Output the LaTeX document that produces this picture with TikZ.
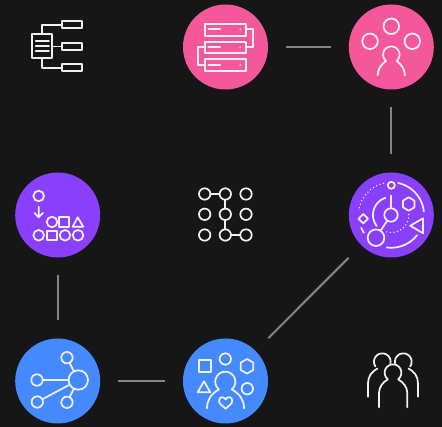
\documentclass[tikz,border=0pt]{standalone}
\usetikzlibrary{arrows.meta}
\definecolor{bgc}{HTML}{161616}
\definecolor{pinkc}{HTML}{F4589B}
\definecolor{purplec}{HTML}{8A3FFC}
\definecolor{bluec}{HTML}{4589FF}
\definecolor{linkc}{HTML}{858585}
\definecolor{iconc}{HTML}{F0F0F0}
\newcommand\circarc[6][]{\draw[icon,#1] plot[domain=#4:#5,samples=50] ({#2+#6*cos(\x)},{#3-#6*sin(\x)});}
\tikzset{
  disc/.style={circle,minimum size=85pt,inner sep=0pt,outer sep=0pt,fill=#1},
  link/.style={draw=linkc,line width=2pt,shorten >=18pt,shorten <=18pt},
  icon/.style={draw=iconc,line width=1.75pt,line join=round,line cap=round},
  ring/.style={circle,draw=iconc,line width=1.75pt,inner sep=0pt,outer sep=0pt,minimum size=#1},
  ring/.default=11pt,
  dots/.style={line width=1.5pt,dash pattern=on 0pt off 3.6pt,line cap=round}
}
\begin{document}
\begin{tikzpicture}[x=1pt,y=-1pt]
\fill[bgc] (0,0) rectangle (442,427);
\useasboundingbox (0,0) rectangle (442,427);

% discs
\node[disc=pinkc] (pinkA) at (225.5,47) {};
\node[disc=pinkc] (pinkB) at (391.3,47) {};
\node[disc=purplec] (purpleA) at (57.7,215) {};
\node[disc=purplec] (purpleB) at (391.3,215) {};
\node[disc=bluec] (blueA) at (57.7,381) {};
\node[disc=bluec] (blueB) at (225.5,381) {};

% connectors
\draw[link] (pinkA) -- (pinkB);
\draw[link] (pinkB) -- (purpleB);
\draw[link] (purpleA) -- (blueA);
\draw[link] (blueA) -- (blueB);
\draw[link] (blueB) -- (purpleB);

% document tree icon
\draw[icon] (32,34.3) rectangle (52.3,58.3);
\draw[icon] (35.7,41) -- (49,41) (35.7,46) -- (49,46) (35.7,51) -- (49,51);
\draw[icon] (62.3,21.3) rectangle (82.3,28);
\draw[icon] (62.3,43) rectangle (82.3,49.7);
\draw[icon] (62.3,64.3) rectangle (82.3,71.3);
\draw[icon] (42,34.3) -- (42,24.7) -- (62.3,24.7);
\draw[icon] (52.3,46.4) -- (62.3,46.4);
\draw[icon] (42,58.3) -- (42,67.7) -- (62.3,67.7);

% servers icon
\draw[icon] (205.3,23.7) rectangle (245.7,35.7);
\draw[icon] (205.3,41.7) rectangle (245.7,53);
\draw[icon] (205.3,59.3) rectangle (245.7,71);
\draw[icon] (208.3,29.3) -- (220.3,29.3) (208.3,47.3) -- (220.3,47.3) (208.3,65) -- (220.3,65);
\fill[iconc] (240.3,29.3) circle (.9) (240.3,47.3) circle (.9) (240.3,65) circle (.9);
\draw[icon] (245.7,29.3) -- (253.3,29.3) -- (253.3,47.3) -- (245.7,47.3);
\draw[icon] (205.3,47.3) -- (197.7,47.3) -- (197.7,65) -- (205.3,65);

% person with three circles icon
\node[ring=15.5pt] (pbTop) at (391.3,26.3) {};
\node[ring=15.5pt] (pbLeft) at (370,41.3) {};
\node[ring=15.5pt] (pbRight) at (412.3,41.3) {};
\circarc{391.3}{54.7}{-50}{230}{8.2}
\draw[icon] (377.7,75.3) .. controls (377.7,69.5) and (381,64.5) .. (386,61);
\draw[icon] (404.9,75.3) .. controls (404.9,69.5) and (401.6,64.5) .. (396.6,61);

% shapes sorting icon
\node[ring=10.6pt] (sa) at (38.7,196) {};
\draw[icon] (38.7,206.7) -- (38.7,217.3) (34.5,213) -- (38.7,217.3) -- (42.9,213);
\node[ring=10.6pt] (sb) at (52,222) {};
\draw[icon] (59.3,217.3) rectangle (69,226.7);
\draw[icon] (77.7,217.3) -- (83.3,226.7) -- (72.7,226.7) -- cycle;
\node[ring=10.6pt] (sc) at (38.7,235.3) {};
\draw[icon] (47,230.7) rectangle (56.7,240.3);
\node[ring=10.6pt] (sd) at (65,235.3) {};
\node[ring=10.6pt] (se) at (78,235.3) {};

% centre grid icon
\node[ring=11.4pt] (g11) at (204.7,194) {};
\node[ring=11.4pt] (g12) at (225.3,194) {};
\node[ring=11.4pt] (g13) at (246,194) {};
\node[ring=11.4pt] (g21) at (204.7,214.3) {};
\node[ring=11.4pt] (g22) at (225.3,214.3) {};
\node[ring=11.4pt] (g23) at (246,214.3) {};
\node[ring=11.4pt] (g31) at (204.7,235) {};
\node[ring=11.4pt] (g32) at (225.3,235) {};
\node[ring=11.4pt] (g33) at (246,235) {};
\draw[icon] (g11) -- (g12);
\draw[icon] (g12) -- (g22);
\draw[icon] (g22) -- (g32);
\draw[icon] (g32) -- (g33);

% orbit icon
\node[ring=7pt] (oTop) at (391.3,185.3) {};
\node[ring=13.4pt] (oMid) at (391,215) {};
\node[ring=16.6pt] (oBig) at (376,237.7) {};
\draw[icon] (oMid) -- (oBig);
\draw[icon] (391,195.7) -- (oMid);
\circarc{391.3}{215}{6}{78}{32.7}
\circarc{391.3}{215}{-98}{-38}{32.7}
\circarc{391.3}{215}{203}{213}{32.7}
\circarc[dots]{391.3}{215}{104}{168}{32.7}
\circarc{391}{215}{108}{218}{18}
\circarc[dots]{391.3}{215}{-105}{2}{17.5}
\draw[icon] (408.7,197.3) -- (414.5,200.7) -- (414.5,207.3) -- (408.7,210.7) -- (402.9,207.3) -- (402.9,200.7) -- cycle;
\draw[icon] (410.3,225.7) -- (423,218.3) -- (423,233.3) -- cycle;
\draw[icon] (363.3,214) -- (368,218.7) -- (363.3,223.4) -- (358.6,218.7) -- cycle;

% network icon
\node[ring=19.4pt] (nHub) at (78.3,380) {};
\node[ring=11.4pt] (nA) at (67,357.7) {};
\node[ring=11.4pt] (nB) at (37,380) {};
\node[ring=11.4pt] (nC) at (37.3,402) {};
\node[ring=11.4pt] (nD) at (67,402.3) {};
\draw[icon] (nHub) -- (nA);
\draw[icon] (nHub) -- (nB);
\draw[icon] (nHub) -- (nC);
\draw[icon] (nHub) -- (nD);

% person with shapes icon
\draw[icon] (199,360.3) rectangle (210.7,371.7);
\node[ring=11.4pt] (cA) at (225.3,359) {};
\draw[icon] (247,359) -- (253.3,362.6) -- (253.3,370) -- (247,373.6) -- (240.7,370) -- (240.7,362.6) -- cycle;
\draw[icon] (204,381.3) -- (210.3,392.3) -- (197.7,392.3) -- cycle;
\node[ring=11.4pt] (cB) at (247.3,388.7) {};
\circarc{225.3}{381.7}{-50}{230}{10}
\draw[icon] (207,408.3) .. controls (207,400) and (211,394) .. (218.9,389.4);
\draw[icon] (244,408.3) .. controls (244,400) and (240,394) .. (231.7,389.4);
\draw[icon] (225.6,408.7) .. controls (222,405.5) and (219,403.5) .. (219,400.8)
  .. controls (219,396.5) and (224,396) .. (225.6,399.5)
  .. controls (227.2,396) and (232.3,396.5) .. (232.3,400.8)
  .. controls (232.3,403.5) and (229.2,405.5) .. (225.6,408.7) -- cycle;

% group icon
\circarc{382.3}{361.7}{-14}{215}{8.3}
\circarc{403.3}{361.7}{-35}{194}{8.3}
\circarc{393}{372.7}{-50}{230}{8.3}
\draw[icon] (368,396.7) -- (368,383.3) .. controls (368,376) and (372,371.5) .. (377.5,368.5);
\draw[icon] (418,396.7) -- (418,383.3) .. controls (418,376) and (414,371.5) .. (408.5,368.5);
\draw[icon] (379,407.3) -- (379,393) .. controls (379,387) and (383,382) .. (387.7,379.5);
\draw[icon] (407.3,407.3) -- (407.3,393) .. controls (407.3,387) and (403,382) .. (398.3,379.5);
\end{tikzpicture}
\end{document}
